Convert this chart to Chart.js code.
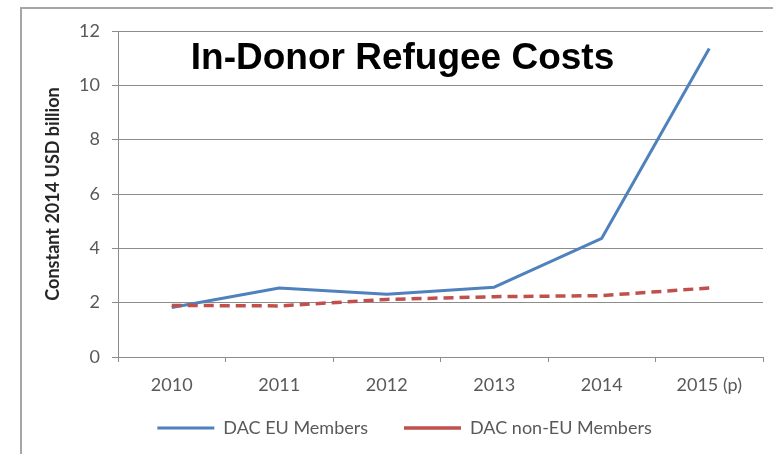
<!DOCTYPE html>
<html>
<head>
<meta charset="utf-8">
<title>In-Donor Refugee Costs</title>
<script src="https://cdn.jsdelivr.net/npm/chart.js@4.4.0/dist/chart.umd.min.js"></script>
<style>
  html, body { margin: 0; padding: 0; background: #fff; }
  #wrap { position: relative; width: 773px; height: 454px; }
</style>
</head>
<body>
<div id="wrap"><canvas id="refugeeChart" width="773" height="454"></canvas></div>
<script>
// Refugee costs inside donor countries, constant 2014 USD billion
const years = ['2010', '2011', '2012', '2013', '2014', '2015 (p)'];
const euMembers = [1.82, 2.54, 2.31, 2.57, 4.37, 11.36];
const nonEuMembers = [1.9, 1.88, 2.12, 2.22, 2.26, 2.54];
const yTicks = [0, 2, 4, 6, 8, 10, 12];

const chartTitle = 'In-Donor Refugee Costs';
const yTitle = 'Constant 2014 USD billion';

const gridColor = '#8c8c8c';
const labelColor = '#595959';
const labelFont = { family: 'Lato, sans-serif', size: 18 };

// thin frame around the whole figure (left and top edges show)
const framePlugin = {
  id: 'frame',
  beforeDraw(chart) {
    const ctx = chart.ctx;
    ctx.save();
    ctx.strokeStyle = '#a6a6a6';
    ctx.lineWidth = 2;
    ctx.beginPath();
    ctx.moveTo(21, chart.height);
    ctx.lineTo(21, 8);
    ctx.lineTo(chart.width, 8);
    ctx.stroke();
    ctx.restore();
  }
};

// the x axis box is kept short so the legend sits close under it;
// widen its clip area afterwards so the year labels are not cut off
const labelRoomPlugin = {
  id: 'labelRoom',
  afterLayout(chart) {
    const x = chart.scales.x;
    x.bottom = x.top + 42;
  }
};

// big heading sitting inside the plot area
const headingPlugin = {
  id: 'heading',
  afterDraw(chart) {
    const ctx = chart.ctx;
    ctx.save();
    ctx.font = 'bold 37px "Liberation Sans", Arial, sans-serif';
    ctx.fillStyle = '#000';
    ctx.textAlign = 'center';
    ctx.textBaseline = 'alphabetic';
    ctx.fillText(chartTitle, 402.5, 69);
    ctx.restore();
  }
};

new Chart(document.getElementById('refugeeChart'), {
  type: 'line',
  data: {
    labels: years,
    datasets: [
      {
        label: 'DAC EU Members',
        data: euMembers,
        borderColor: '#4F81BD',
        backgroundColor: '#4F81BD',
        borderWidth: 3,
        borderJoinStyle: 'round',
        pointRadius: 0,
        tension: 0,
        order: 1
      },
      {
        label: 'DAC non-EU Members',
        data: nonEuMembers,
        borderColor: '#C0504D',
        backgroundColor: '#C0504D',
        borderWidth: 3.5,
        borderDash: [10, 6],
        pointRadius: 0,
        tension: 0,
        order: 0
      }
    ]
  },
  options: {
    responsive: false,
    animation: false,
    layout: { padding: { left: 46, top: 31, right: 10, bottom: 7 } },
    plugins: {
      title: { display: false },
      tooltip: { enabled: false },
      legend: {
        position: 'bottom',
        labels: {
          usePointStyle: true,
          pointStyle: 'line',
          pointStyleWidth: 57,
          padding: 36,
          color: labelColor,
          font: labelFont,
          sort: (a, b) => a.datasetIndex - b.datasetIndex
        }
      }
    },
    scales: {
      x: {
        offset: true,
        grid: { offset: true, drawOnChartArea: false, tickLength: 5, color: gridColor },
        border: { color: gridColor },
        ticks: { color: labelColor, font: labelFont, padding: 12, maxRotation: 0 },
        afterFit(scale) { scale.height = 26; }
      },
      y: {
        min: yTicks[0],
        max: yTicks[yTicks.length - 1],
        ticks: {
          stepSize: yTicks[1] - yTicks[0],
          color: labelColor,
          font: labelFont,
          padding: 12
        },
        grid: { color: gridColor, tickLength: 6 },
        border: { color: gridColor },
        title: {
          display: true,
          text: yTitle,
          color: '#262626',
          font: { family: 'Lato, sans-serif', size: 18, weight: 'bold' },
          padding: { top: -3.8, bottom: 0 }
        },
        afterFit(scale) { scale.width = 72; }
      }
    }
  },
  plugins: [framePlugin, labelRoomPlugin, headingPlugin]
});
</script>
</body>
</html>
